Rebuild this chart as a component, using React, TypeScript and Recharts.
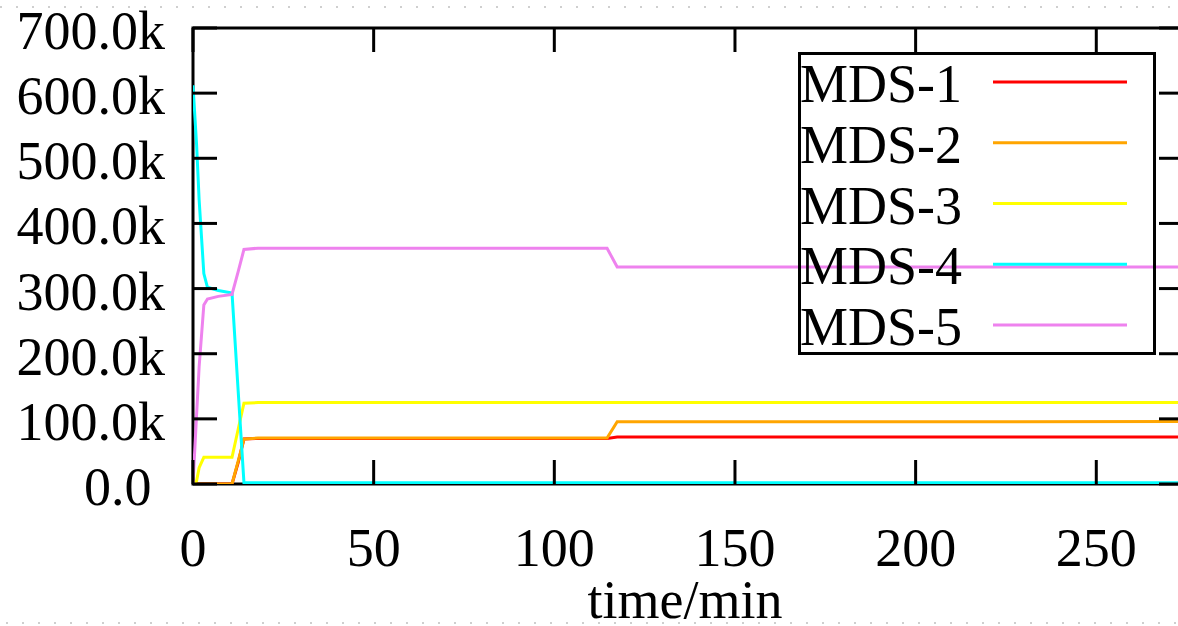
import { LineChart, Line, XAxis, YAxis, Legend, ReferenceArea } from 'recharts';

// sample times (min) and values per MDS
const times = [0, 1, 1.7, 3, 4, 7, 10.8, 12.5, 14.1, 18, 114.6, 117.4, 274];
const mds1 = [0, 0, 0, 0, 0, 0, 0, 33000, 69000, 70000, 70000, 72000, 72000];
const mds2 = [0, 0, 0, 0, 0, 0, 0, 35000, 69000, 70500, 70500, 95500, 95800];
const mds3 = [0, 5000, 25000, 41000, 41000, 41000, 41000, 84000, 124000, 125000, 125000, 125000, 125000];
const mds4 = [612000, 520000, 436000, 323000, 302000, 297000, 293000, 143000, 2000, 2000, 2000, 2000, 2000];
const mds5 = [0, 107000, 180000, 275000, 284000, 288000, 291000, 326000, 360000, 362000, 362000, 333000, 333000];

const seriesNames = ['MDS-1', 'MDS-2', 'MDS-3', 'MDS-4', 'MDS-5'];
const seriesColors = ['#ff0000', '#ffa500', '#ffff00', '#00ffff', '#ee82ee'];
const seriesValues = [mds1, mds2, mds3, mds4, mds5];

const xTicks = [0, 50, 100, 150, 200, 250];
const yTicks = [0, 100000, 200000, 300000, 400000, 500000, 600000, 700000];
const X_MAX = 274;
const Y_MAX = 700000;

const data = times.map((t, i) => {
  const row: Record<string, number> = { t };
  seriesNames.forEach((name, s) => {
    row[name] = seriesValues[s][i];
  });
  return row;
});

const FONT = '"Liberation Serif", "Times New Roman", serif';
const FONT_SIZE = 54;
const PLOT_LEFT = 193;
const PLOT_TOP = 28;
const PLOT_BOTTOM = 484;
const CHART_W = 1200;
const CHART_H = 640;
const MARGIN_RIGHT = 17;
const PLOT_RIGHT = CHART_W - MARGIN_RIGHT;
const TICK_LEN = 24;

const formatY = (v: number) => (v === 0 ? '0.0\u00a0' : `${(v / 1000).toFixed(1)}k`);

const YTick = (props: any) => {
  const { y, payload } = props;
  return (
    <g>
      <line x1={PLOT_LEFT} x2={PLOT_LEFT + TICK_LEN} y1={y} y2={y} stroke="#000" strokeWidth={3} />
      <line x1={PLOT_RIGHT - TICK_LEN} x2={PLOT_RIGHT} y1={y} y2={y} stroke="#000" strokeWidth={3} />
      <text x={PLOT_LEFT - 28} y={y + 21} textAnchor="end" fontFamily={FONT} fontSize={FONT_SIZE} fill="#000">
        {formatY(payload.value)}
      </text>
    </g>
  );
};

const XTick = (props: any) => {
  const { x, payload } = props;
  return (
    <g>
      <line x1={x} x2={x} y1={PLOT_BOTTOM} y2={PLOT_BOTTOM - TICK_LEN} stroke="#000" strokeWidth={3} />
      <line x1={x} x2={x} y1={PLOT_TOP} y2={PLOT_TOP + TICK_LEN} stroke="#000" strokeWidth={3} />
      <text x={x} y={PLOT_BOTTOM + 82} textAnchor="middle" fontFamily={FONT} fontSize={FONT_SIZE} fill="#000">
        {payload.value}
      </text>
    </g>
  );
};

const XLabel = (props: any) => {
  const vb = props.viewBox || { x: PLOT_LEFT, width: PLOT_RIGHT - PLOT_LEFT };
  return (
    <text x={vb.x + vb.width / 2 - 3} y={618} textAnchor="middle" fontFamily={FONT} fontSize={FONT_SIZE} fill="#000">
      time/min
    </text>
  );
};

const KeyBox = () => (
  <div
    style={{
      width: 358,
      height: 303,
      border: '3px solid #000',
      boxSizing: 'border-box',
      background: 'transparent',
    }}
  >
    <svg width={352} height={297} style={{ display: 'block', overflow: 'visible' }}>
      {seriesNames.map((name, i) => {
        const cy = 27 + i * 60.75;
        return (
          <g key={name}>
            <text x={-1} y={cy + 20} fontFamily={FONT} fontSize={FONT_SIZE} fill="#000">
              {name}
            </text>
            <line x1={192} x2={326} y1={cy} y2={cy} stroke={seriesColors[i]} strokeWidth={3} />
          </g>
        );
      })}
    </svg>
  </div>
);

const dots = 'repeating-linear-gradient(to right, #cfcfcf 0 2px, transparent 2px 16px)';

export default function App() {
  return (
    <div
      style={{
        position: 'fixed',
        left: 0,
        top: 0,
        width: 1178,
        height: 626,
        overflow: 'hidden',
        background: '#fff',
      }}
    >
      <LineChart
        width={CHART_W}
        height={CHART_H}
        data={data}
        margin={{ top: PLOT_TOP, right: MARGIN_RIGHT, left: 0, bottom: 0 }}
      >
        <XAxis
          dataKey="t"
          type="number"
          domain={[0, X_MAX]}
          ticks={xTicks}
          allowDataOverflow
          axisLine={false}
          tickLine={false}
          tick={<XTick />}
          height={CHART_H - PLOT_BOTTOM}
          label={<XLabel />}
        />
        <YAxis
          type="number"
          domain={[0, Y_MAX]}
          ticks={yTicks}
          allowDataOverflow
          axisLine={false}
          tickLine={false}
          tick={<YTick />}
          width={PLOT_LEFT}
        />
        {seriesNames.map((name, i) => (
          <Line
            key={name}
            type="linear"
            dataKey={name}
            stroke={seriesColors[i]}
            strokeWidth={3}
            dot={false}
            activeDot={false}
            isAnimationActive={false}
          />
        ))}
        <ReferenceArea
          x1={0}
          x2={X_MAX}
          y1={0}
          y2={Y_MAX}
          fill="none"
          fillOpacity={0}
          stroke="#000"
          strokeWidth={3}
        />
        <Legend
          layout="vertical"
          align="center"
          verticalAlign="middle"
          content={<KeyBox />}
          wrapperStyle={{ position: 'absolute', left: 798, top: 52, width: 358, height: 303 }}
        />
      </LineChart>
      <div style={{ position: 'absolute', left: 0, top: 6, width: 1178, height: 2, background: dots }} />
      <div style={{ position: 'absolute', left: 6, top: 622, width: 1178, height: 2, background: dots }} />
    </div>
  );
}
